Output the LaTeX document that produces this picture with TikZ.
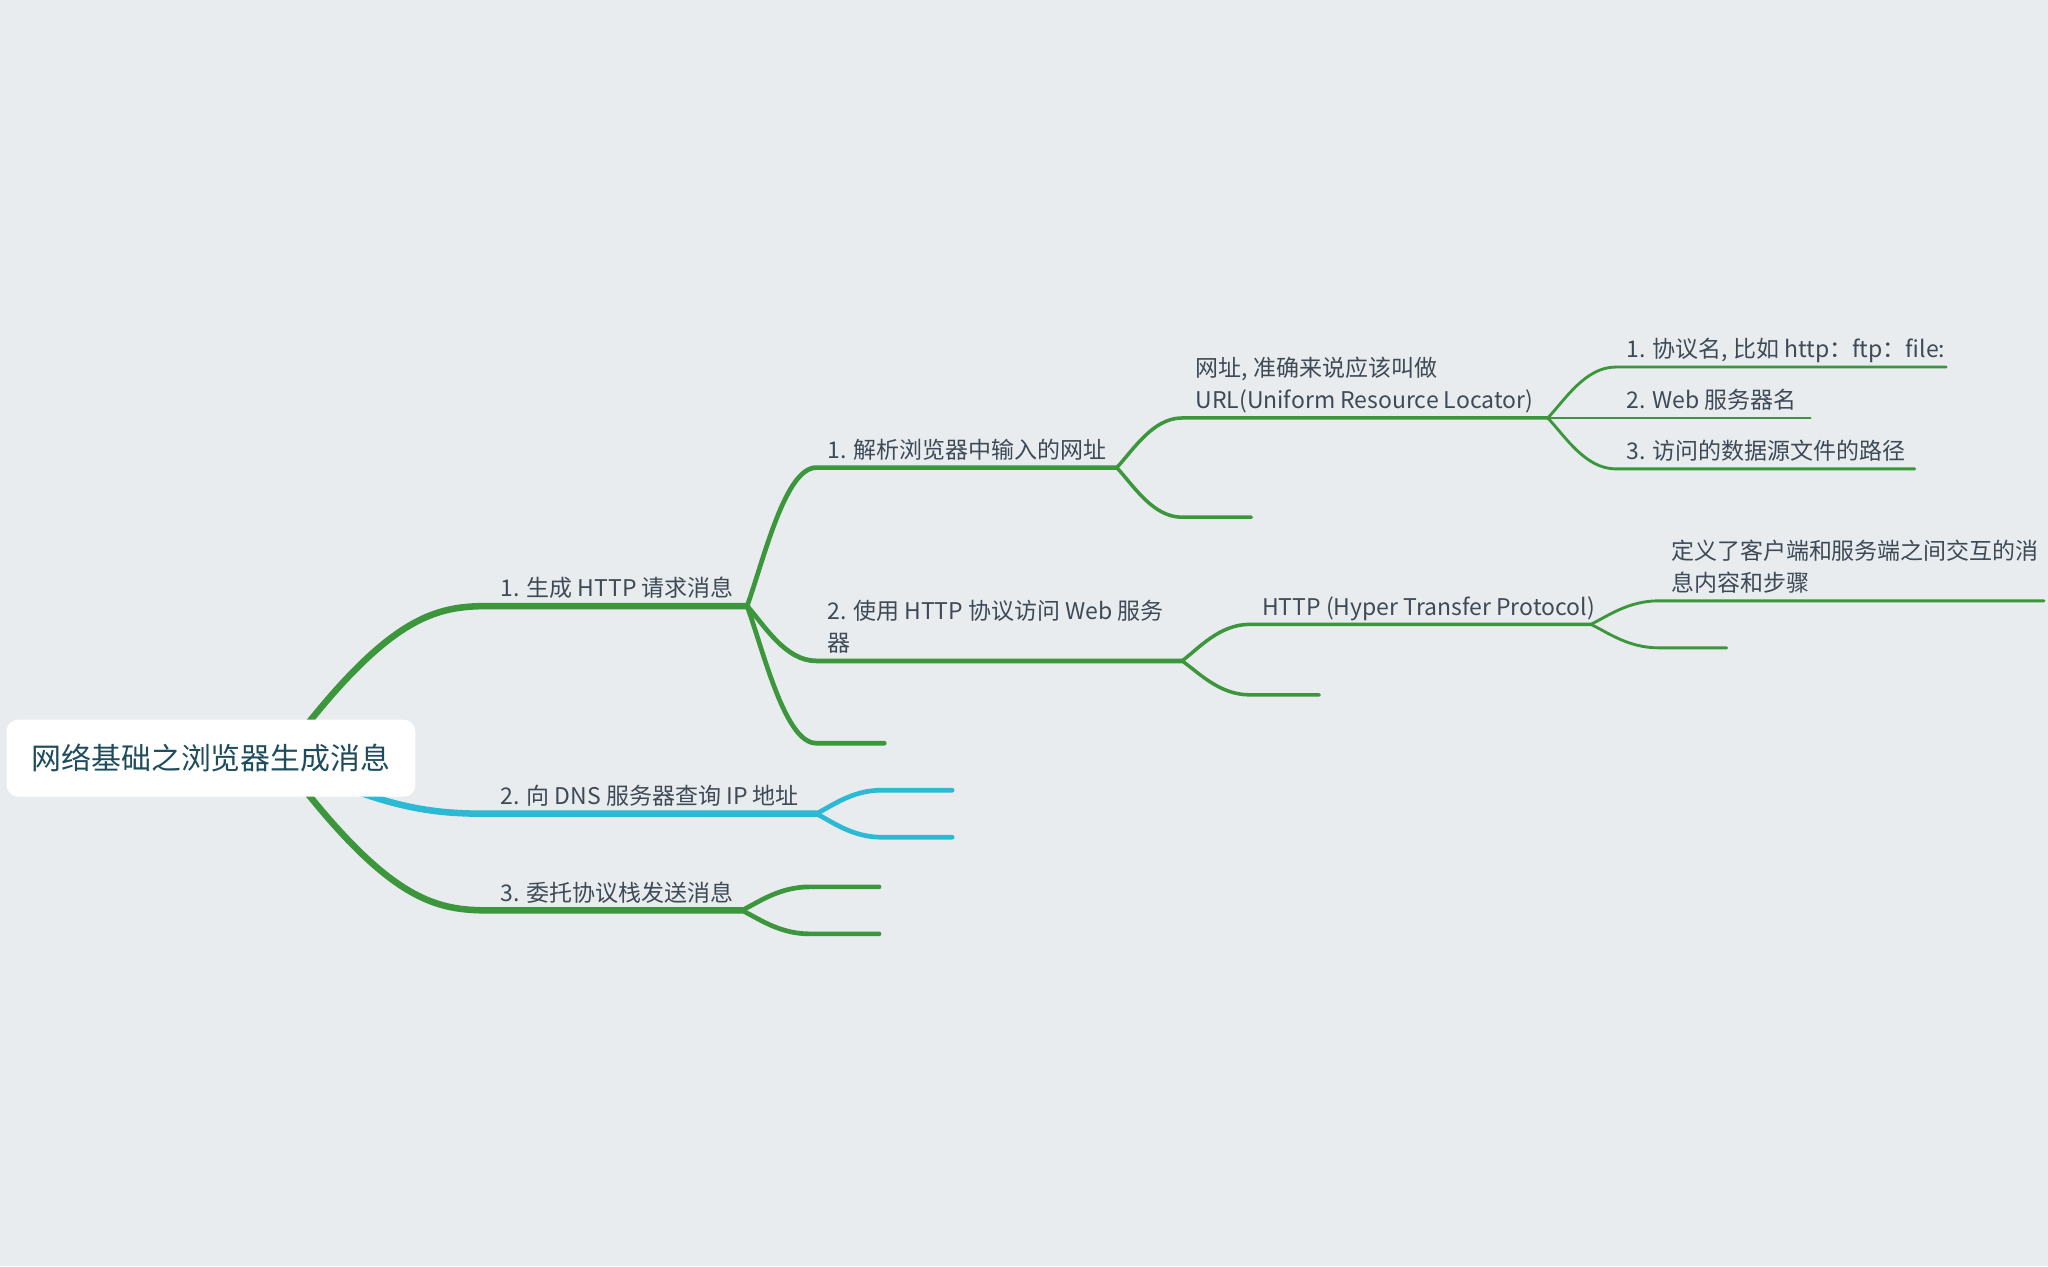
\documentclass[tikz,border=0pt]{standalone}
\usepackage{fontspec}
\setmainfont{Noto Sans CJK SC}
\usetikzlibrary{calc, positioning}
\pgfdeclarelayer{lines}
\pgfsetlayers{lines,main}
\definecolor{bgcol}{HTML}{E8ECEF}
\definecolor{branchgreen}{HTML}{3C963C}
\definecolor{branchcyan}{HTML}{2BB9D3}
\definecolor{labelcol}{HTML}{3E4A56}
\definecolor{rootcol}{HTML}{1F4C5C}
\tikzset{
    limb/.style={to path={let \p1=(\tikztostart), \p2=(\tikztotarget) in
        .. controls ({\x1+0.514*(\x2-\x1)},{\y1+0.95*(\y2-\y1)}) and ({\x1+0.743*(\x2-\x1)},\y2) .. (\tikztotarget)}},
    twig/.style={to path={let \p1=(\tikztostart), \p2=(\tikztotarget) in
        .. controls ({\x1+0.25*(\x2-\x1)},{\y1+0.35*(\y2-\y1)}) and ({\x1+0.55*(\x2-\x1)},\y2) .. (\tikztotarget)}},
    bone1/.style={draw=branchgreen, line width=2.5pt, line cap=round},
    bone2/.style={draw=branchgreen, line width=1.8pt, line cap=round},
    bone3/.style={draw=branchgreen, line width=1.35pt, line cap=round},
    bone4/.style={draw=branchgreen, line width=1.1pt, line cap=round},
    topic/.style={anchor=base west, inner sep=0pt, text=labelcol, align=left,
        font=\fontsize{8.8}{12.25}\selectfont},
    rootbox/.style={fill=white, rounded corners=4.5pt, minimum width=156.5pt, minimum height=29.5pt,
        text=rootcol, font=\fontsize{11.46}{13}\selectfont}
}
\begin{document}
\begin{tikzpicture}[x=0.5pt, y=-0.5pt]
    \useasboundingbox (0,0) rectangle (1568,969.3);
    \coordinate (rootc) at (215,581);
    \foreach \n/\xa/\xb/\y in {t1/375/572/464, t2/375/625/623, t3/375/568/697,
        t11/625/855/358, t12/625/905/506, t13/625/677/569,
        t21/675/729/605, t22/675/729/641, t31/620/673/679, t32/620/673/715,
        t111/905/1185/320, t112/905/958/396, t121/957/1218/478, t122/957/1010/532,
        t1111/1237/1490/281, t1112/1237/1386/320, t1113/1237/1466/359,
        t1211/1270/1565/460, t1212/1270/1322/496}{
        \coordinate (\n-s) at (\xa,\y);
        \coordinate (\n-e) at (\xb,\y);
    }
    \begin{pgfonlayer}{lines}
        \fill[bgcol] (0,0) rectangle (1568,969.3);
        \draw[bone1] (rootc) to[limb] (t1-s) -- (t1-e);
        \draw[bone1, draw=branchcyan] (rootc) to[limb] (t2-s) -- (t2-e);
        \draw[bone1] (rootc) to[limb] (t3-s) -- (t3-e);
        \foreach \p/\c in {t1/t11, t1/t12, t1/t13, t3/t31, t3/t32}
            \draw[bone2] (\p-e) to[twig] (\c-s) -- (\c-e);
        \foreach \c in {t21, t22}
            \draw[bone2, draw=branchcyan] (t2-e) to[twig] (\c-s) -- (\c-e);
        \foreach \p/\c in {t11/t111, t11/t112, t12/t121, t12/t122}
            \draw[bone3] (\p-e) to[twig] (\c-s) -- (\c-e);
        \foreach \p/\c in {t111/t1111, t111/t1112, t111/t1113, t121/t1211, t121/t1212}
            \draw[bone4] (\p-e) to[twig] (\c-s) -- (\c-e);
    \end{pgfonlayer}
    \node[rootbox] (root) at (161.5,580.5) {网络基础之浏览器生成消息};
    \begin{scope}[every node/.style={topic}]
        \node (l1) at ($(t1-s)+(8,-7)$) {1. 生成 HTTP 请求消息};
        \node (l2) at ($(t2-s)+(8,-7)$) {2. 向 DNS 服务器查询 IP 地址};
        \node (l3) at ($(t3-s)+(8,-7)$) {3. 委托协议栈发送消息};
        \node (l11) at ($(t11-s)+(8,-7)$) {1. 解析浏览器中输入的网址};
        \node (l12) at ($(t12-s)+(8,-7)$) {2. 使用 HTTP 协议访问 Web 服务\\器};
        \node (l111) at ($(t111-s)+(10,-7)$) {网址, 准确来说应该叫做\\URL(Uniform Resource Locator)};
        \node (l121) at ($(t121-s)+(9,-7)$) {HTTP (Hyper Transfer Protocol)};
        \node (l1111) at ($(t1111-s)+(8,-7)$) {1. 协议名, 比如 http：ftp：file:};
        \node (l1112) at ($(t1112-s)+(8,-7)$) {2. Web 服务器名};
        \node (l1113) at ($(t1113-s)+(8,-7)$) {3. 访问的数据源文件的路径};
        \node (l1211) at ($(t1211-s)+(9,-7)$) {定义了客户端和服务端之间交互的消\\息内容和步骤};
    \end{scope}
\end{tikzpicture}
\end{document}
